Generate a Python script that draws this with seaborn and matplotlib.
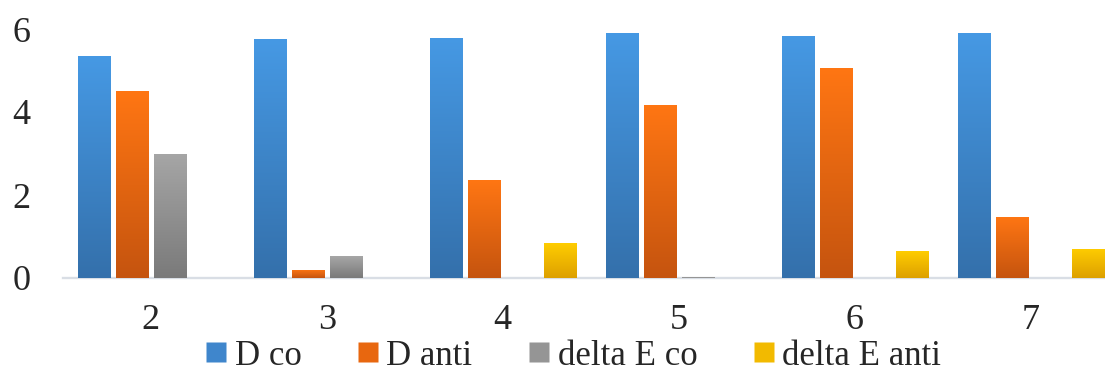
import numpy as np
import pandas as pd
import matplotlib
matplotlib.use("Agg")
import matplotlib.pyplot as plt
from matplotlib.colors import LinearSegmentedColormap
from matplotlib.lines import Line2D
import seaborn as sns

categories = ["2", "3", "4", "5", "6", "7"]
series = ["D co", "D anti", "delta E co", "delta E anti"]
d_co = [5.34, 5.75, 5.79, 5.91, 5.84, 5.91]
d_anti = [4.50, 0.20, 2.36, 4.18, 5.07, 1.47]
delta_e_co = [3.00, 0.53, 0.0, 0.02, 0.0, 0.0]
delta_e_anti = [0.0, 0.0, 0.84, 0.0, 0.65, 0.70]

values = [d_co, d_anti, delta_e_co, delta_e_anti]
rows = []
for s, vals in zip(series, values):
    for c, v in zip(categories, vals):
        rows.append({"cat": c, "series": s, "value": v})
df = pd.DataFrame(rows)

# gradient (bottom, top) colours per series
grads = [("#3470AB", "#4699E4"),
         ("#C5540F", "#FF7613"),
         ("#7A7A7A", "#A6A6A6"),
         ("#DDA000", "#FFCD00")]
mids = ["#3F86CC", "#E8670F", "#959595", "#F2BA00"]

sns.set_style("white")
plt.rcParams["font.family"] = ["Liberation Serif", "DejaVu Serif"]

W, H = 1105, 374
fig = plt.figure(figsize=(W / 100, H / 100), dpi=100)
ax_left, ax_w = 62.7, 176.0 * 6
ax = fig.add_axes([ax_left / W, 96 / H, ax_w / W, (278 - 29) / H])

sns.barplot(data=df, x="cat", y="value", hue="series", hue_order=series,
            order=categories, palette=mids, width=0.864, gap=0.158,
            ax=ax, legend=False, saturation=1)

ax.set_ylim(0, 6)
grad = np.linspace(0, 1, 256).reshape(-1, 1)
for i, cont in enumerate(ax.containers):
    cmap = LinearSegmentedColormap.from_list(f"g{i}", [grads[i][0], grads[i][1]])
    for p in cont.patches:
        x = p.get_x()
        w, h = p.get_width(), p.get_height()
        if h <= 0:
            continue
        p.set_facecolor("none")
        p.set_edgecolor("none")
        im = ax.imshow(grad, extent=[x, x + w, 0, h], origin="lower",
                       aspect="auto", cmap=cmap, zorder=2)
        im.set_clip_path(p)
ax.set_xlim(-0.5, len(categories) - 0.5)
ax.set_ylim(0, 6)
ax.set_yticks([0, 2, 4, 6])
ax.set_xlabel("")
ax.set_ylabel("")
for s in ["top", "right", "left"]:
    ax.spines[s].set_visible(False)
ax.spines["bottom"].set_color("#D9DEE5")
ax.spines["bottom"].set_linewidth(1.7)
ax.spines["bottom"].set_zorder(1)
ax.tick_params(axis="y", length=0, pad=23, labelsize=26)
ax.tick_params(axis="x", length=0, pad=19, labelsize=26)

handles = [Line2D([], [], marker="s", linestyle="none", markersize=14,
                  markerfacecolor=c, markeredgecolor="none") for c in mids]
fig.legend(handles, series, loc="lower center", bbox_to_anchor=(574 / W, 0.004),
           ncol=4, frameon=False, fontsize=25, handletextpad=0.25,
           columnspacing=1.65, handlelength=0.55, borderpad=0, borderaxespad=0)

fig.savefig("out.png", dpi=100)
